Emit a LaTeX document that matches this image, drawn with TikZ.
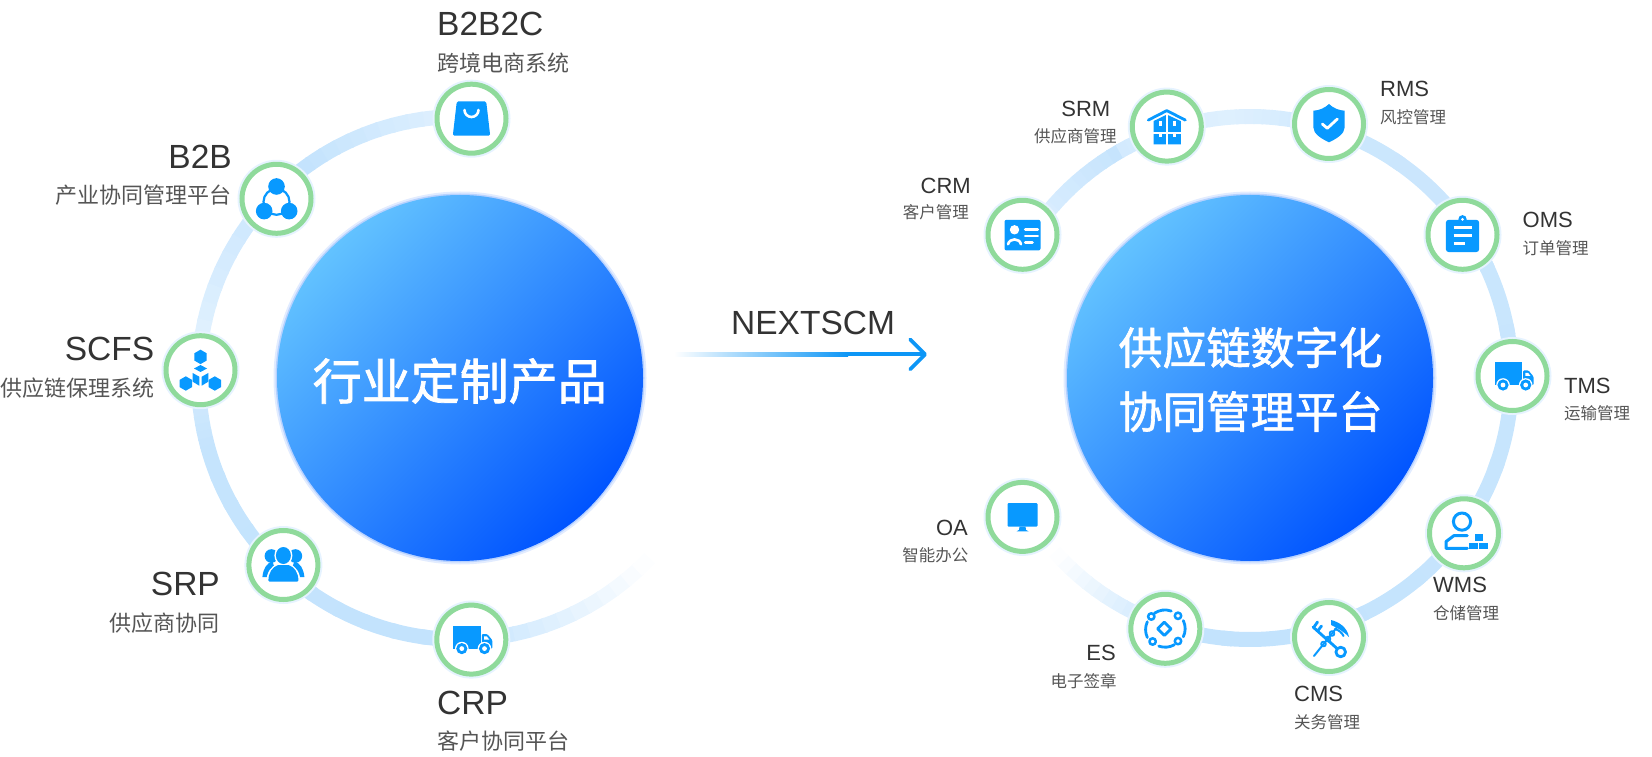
\documentclass[tikz,border=0pt]{standalone}
\usepackage{fontspec}
\setmainfont{Liberation Sans}
\newfontfamily\cjk{Noto Sans CJK SC}
\newfontfamily\cjkheavy[FakeBold=1.5]{Noto Sans CJK SC}
\usetikzlibrary{arrows.meta}
\definecolor{ringblue}{HTML}{BFE1FD}
\definecolor{icongreen}{HTML}{8FDA9B}
\definecolor{iconhalo}{HTML}{E6F3FF}
\definecolor{iconblue}{HTML}{0899FF}
\definecolor{corelight}{HTML}{62C2FF}
\definecolor{coredark}{HTML}{0054FF}
\definecolor{corehalo}{HTML}{E2ECFF}
\definecolor{coreedge}{HTML}{B8D2FF}
\definecolor{arrowblue}{HTML}{0D96F6}
\definecolor{titlegray}{HTML}{333333}
\definecolor{subgray}{HTML}{555555}
\tikzset{
  ringline/.style={line width=15pt},
  iconnode/.style={shape=circle, minimum size=69pt, inner sep=0pt, fill=white, draw=icongreen, line width=5pt,
    preaction={draw=iconhalo, line width=9pt}},
  corenode/.style={shape=circle, minimum size=366pt, inner sep=0pt,
    preaction={draw=corehalo, line width=7pt}, preaction={draw=coreedge, line width=3pt},
    left color=corelight, right color=coredark, shading angle=45},
  coretext/.style={text=white, align=center, inner sep=0pt},
  titlebig/.style={font=\fontsize{33.5}{38}\selectfont, text=titlegray, inner sep=0pt},
  subbig/.style={font=\cjk\fontsize{22}{26}\selectfont, text=subgray, inner sep=0pt},
  titlesmall/.style={font=\fontsize{22}{26}\selectfont, text=titlegray, inner sep=0pt},
  subsmall/.style={font=\cjk\fontsize{16.5}{20}\selectfont, text=subgray, inner sep=0pt},
  iconfill/.style={fill=iconblue, draw=none},
  iconline/.style={draw=iconblue, line width=2.8pt, line cap=round, line join=round},
  iconcut/.style={draw=white, line width=2.6pt, line cap=round, line join=round},
  nextarrow/.style={draw=arrowblue, line width=4pt, line cap=round,
    -{Straight Barb[length=15pt, width=30pt, round, line width=3.8pt]}}
}
% one stretch of a ring, paler or stronger from end to end
\newcommand{\ringarc}[5]{%
  \foreach \i in {0,...,11}{%
    \pgfmathsetmacro{\angA}{#2+(#3-#2)*\i/12}
    \pgfmathsetmacro{\angB}{#2+(#3-#2)*(\i+1.15)/12}
    \pgfmathsetmacro{\mixv}{#4+(#5-#4)*(\i+0.5)/12}
    \draw[ringline, color=ringblue!\mixv!white] (#1) ++(\angA:261.5) arc[start angle=\angA, end angle=\angB, radius=261.5];
  }}
% icons, each drawn round the centre of its node
\newcommand{\bagicon}[1]{\begin{scope}[shift={(#1)}]
  \fill[iconfill, rounded corners=1.5pt] (-14.7,17.3) -- (14.7,17.3) -- (18.7,-17) -- (-18.7,-17) -- cycle;
  \draw[iconcut] (-7,8.7) arc[start angle=180, end angle=360, radius=7];
\end{scope}}
\newcommand{\triadicon}[1]{\begin{scope}[shift={(#1)}]
  \draw[iconline, line width=2.2pt] (0,-3) circle (13);
  \fill[iconfill] (0,12.3) circle (8.3);
  \fill[iconfill] (-12.3,-12.3) circle (8.3);
  \fill[iconfill] (12.7,-12.3) circle (8.3);
\end{scope}}
\newcommand{\hexcell}[2]{\fill[iconfill] (#1,#2) ++(90:7.2) -- ++(-30:7.2) -- ++(-90:7.2) -- ++(-150:7.2) -- ++(150:7.2) -- ++(90:7.2) -- cycle;}
\newcommand{\hexicon}[1]{\begin{scope}[shift={(#1)}]
  \hexcell{0}{13.3}
  \hexcell{-14.7}{-13.3}
  \hexcell{14.3}{-13.3}
  \fill[iconfill] (-6.5,1.7) -- (0,5.2) -- (6.5,1.7) -- (0,-1.8) -- cycle;
  \fill[iconfill] (-7.8,-2.8) -- (-1.2,-6.5) -- (-1.2,-15.5) -- (-7.8,-11.5) -- cycle;
  \fill[iconfill] (7.8,-2.8) -- (1.2,-6.5) -- (1.2,-15.5) -- (7.8,-11.5) -- cycle;
\end{scope}}
\newcommand{\usersicon}[1]{\begin{scope}[shift={(#1)}]
  \fill[iconfill] (-12,9) circle (6.8);
  \fill[iconfill] (12,9) circle (6.8);
  \fill[iconfill] (-21,-12) .. controls (-20,-3) and (-17,1) .. (-11,4) -- (-6,-12) -- cycle;
  \fill[iconfill] (21,-12) .. controls (20,-3) and (17,1) .. (11,4) -- (6,-12) -- cycle;
  \fill[white] (0,9.5) ellipse (9 and 10);
  \fill[white] (-17,-17) .. controls (-17,-7) and (-12,-1) .. (-6,1) -- (6,1) .. controls (12,-1) and (17,-7) .. (17,-17) -- cycle;
  \fill[iconfill] (0,9.5) ellipse (7.5 and 8.5);
  \fill[iconfill, rounded corners=1pt] (-15,-16.5) .. controls (-15,-8) and (-11,-2) .. (-5,0) -- (5,0) .. controls (11,-2) and (15,-8) .. (15,-16.5) -- cycle;
\end{scope}}
\newcommand{\truckicon}[1]{\begin{scope}[shift={(#1)}]
  \fill[iconfill] (-18,13.5) rectangle (9.3,-9);
  \fill[iconfill, rounded corners=1pt] (10.5,5.5) -- (16,5.5) -- (21,-0.5) -- (21,-9) -- (10.5,-9) -- cycle;
  \fill[white] (12.8,3.2) -- (15.5,3.2) -- (18,0) -- (12.8,0) -- cycle;
  \foreach \wheelx in {-9.5,13.2}{
    \fill[white] (\wheelx,-9) circle (6.8);
    \fill[iconfill] (\wheelx,-9) circle (5.6);
    \fill[white] (\wheelx,-9) circle (2.4);
  }
\end{scope}}
\newcommand{\househicon}[1]{\begin{scope}[shift={(#1)}]
  \draw[iconline] (-18.5,6.5) -- (0,16) -- (18.5,6.5);
  \fill[iconfill] (-13.3,5.5) -- (0,12) -- (14,5.5) -- (14,-17.7) -- (-13.3,-17.7) -- cycle;
  \draw[white, line width=1.4pt] (0.3,13) -- (0.3,-18);
  \draw[white, line width=1.4pt] (-14,-6.5) -- (15,-6.5);
  \foreach \notchx in {-6.7,7.3}{
    \fill[white] (\notchx-1.4,6) rectangle (\notchx+1.4,1);
    \fill[white] (\notchx-1.4,-6.5) rectangle (\notchx+1.4,-10);
  }
\end{scope}}
\newcommand{\shieldicon}[1]{\begin{scope}[shift={(#1)}]
  \fill[iconfill] (0,20) .. controls (4,16) and (10,13.5) .. (15.7,13.3) -- (15.7,-3.3) .. controls (15.7,-10) and (7,-15) .. (0,-18.3)
    .. controls (-7,-15) and (-15.7,-10) .. (-15.7,-3.3) -- (-15.7,13.3) .. controls (-10,13.5) and (-4,16) .. cycle;
  \draw[iconcut, line width=2.8pt] (-6.7,0) -- (-1.7,-4.3) -- (8.3,5);
\end{scope}}
\newcommand{\clipicon}[1]{\begin{scope}[shift={(#1)}]
  \fill[iconfill, rounded corners=3pt] (-16.7,15) rectangle (16.7,-17.3);
  \fill[iconfill] (0,15.5) circle (4.2);
  \fill[white] (0,15.5) circle (1.5);
  \draw[iconcut, line width=3pt, line cap=butt] (-9,7) -- (9,7);
  \draw[iconcut, line width=3pt, line cap=butt] (-9,-0.7) -- (9,-0.7);
  \draw[iconcut, line width=3pt, line cap=butt] (-9,-8.3) -- (2.5,-8.3);
\end{scope}}
\newcommand{\keeperhicon}[1]{\begin{scope}[shift={(#1)}]
  \draw[iconline, line width=3pt] (-2,11.7) circle (8.6);
  \draw[iconline, line width=3pt] (3.3,-2.3) -- (-10,-2.3) -- (-18,-8.3) -- (-18,-15) -- (3.3,-15);
  \fill[iconfill] (11,-1) rectangle (19.3,-7.6);
  \fill[iconfill] (5,-9.3) rectangle (14.3,-15.7);
  \fill[iconfill] (15,-9.3) rectangle (24.3,-15.7);
\end{scope}}
\newcommand{\customsicon}[1]{\begin{scope}[shift={(#1)}]
  \draw[iconline] (-16,10) -- (8,-11.5);
  \draw[iconline] (11.7,-15) circle (4.8);
  \draw[iconline] (-15,10) -- (-11.5,15);
  \draw[iconline] (-11,6.5) -- (-7.5,11);
  \draw[iconline, line width=2pt] (-15,-19) -- (9,11);
  \fill[iconfill] (2,17) .. controls (10,15) and (18,10) .. (20,0) .. controls (15,5) and (9,9) .. (2,12) -- cycle;
  \draw[iconline, line width=2pt] (6,8) .. controls (10,7) and (13,4) .. (14.5,1);
  \draw[iconline, line width=1.8pt] (-5.5,-7) circle (2.4);
  \draw[iconline, line width=1.8pt] (-1,-2) circle (2.4);
  \draw[iconline, line width=1.8pt] (3,3.5) circle (2.4);
\end{scope}}
\newcommand{\signicon}[1]{\begin{scope}[shift={(#1)}]
  \draw[iconline] (-1,6.7) -- (5.7,0) -- (-1,-6.7) -- (-7.7,0) -- cycle;
  \draw[iconline] (18,-8) arc[start angle=-26, end angle=26, radius=18.5];
  \draw[iconline] (-11,15.5) arc[start angle=125, end angle=70, radius=18.5];
  \draw[iconline] (-18,7) arc[start angle=155, end angle=205, radius=18.5];
  \draw[iconline] (-6.5,-17.3) arc[start angle=250, end angle=300, radius=18.5];
  \foreach \dotx/\doty in {-14/12.3,12.7/13,-12.7/-12.7,12.7/-12.3}{
    \draw[iconline, line width=2.5pt, fill=white] (\dotx,\doty) circle (3.2);
  }
\end{scope}}
\newcommand{\screenicon}[1]{\begin{scope}[shift={(#1)}]
  \fill[iconfill, rounded corners=1pt] (-15,13.7) rectangle (15,-9.7);
  \fill[iconfill] (-3,-9.7) -- (3,-9.7) -- (3.5,-13) -- (6,-14.5) -- (-6,-14.5) -- (-3.5,-13) -- cycle;
\end{scope}}
\newcommand{\cardicon}[1]{\begin{scope}[shift={(#1)}]
  \fill[iconfill, rounded corners=2pt] (-18,15) rectangle (18,-15.7);
  \fill[white] (-8,5) circle (4.7);
  \draw[iconcut] (-14.5,-9.5) .. controls (-13,-3) and (-3,-3) .. (-1.5,-9.5);
  \draw[iconcut] (2.7,5) -- (15.3,5);
  \draw[iconcut] (2.7,-1.3) -- (15.3,-1.3);
  \draw[iconcut] (2.7,-7.7) -- (10,-7.7);
\end{scope}}
\begin{document}
\begin{tikzpicture}[x=1pt, y=1pt]
\useasboundingbox (0,0) rectangle (1652,756);
\coordinate (leftc) at (460,378);
\coordinate (rightc) at (1250,378);
% left ring
\ringarc{leftc}{88}{128}{45}{95}
\ringarc{leftc}{128}{175}{90}{45}
\ringarc{leftc}{175}{195}{60}{90}
\ringarc{leftc}{195}{275}{90}{95}
\ringarc{leftc}{275}{316}{80}{0}
% right ring
\ringarc{rightc}{148}{120}{50}{90}
\ringarc{rightc}{120}{95}{70}{50}
\ringarc{rightc}{95}{72}{50}{75}
\ringarc{rightc}{72}{-109}{80}{95}
\ringarc{rightc}{-109}{-138}{80}{0}
% left icons
\node (b2b2c) [iconnode] at (471.5,637.3) {};
\node (b2b) [iconnode] at (276.5,557.2) {};
\node (scfs) [iconnode] at (200.5,385.8) {};
\node (srp) [iconnode] at (283.4,191) {};
\node (crp) [iconnode] at (471.3,116.4) {};
\bagicon{b2b2c}
\triadicon{b2b}
\hexicon{scfs}
\usersicon{srp}
\truckicon{crp}
% right icons
\node (srm) [iconnode] at (1166.8,629.4) {};
\node (rms) [iconnode] at (1329,632) {};
\node (oms) [iconnode] at (1462.5,521.2) {};
\node (tms) [iconnode] at (1512.5,380) {};
\node (wms) [iconnode] at (1464,222.7) {};
\node (cms) [iconnode] at (1329,119) {};
\node (es) [iconnode] at (1165.3,127.2) {};
\node (oa) [iconnode] at (1022.5,239.1) {};
\node (crm) [iconnode] at (1022.5,521.2) {};
\househicon{srm}
\shieldicon{rms}
\clipicon{oms}
\truckicon{tms}
\keeperhicon{wms}
\customsicon{cms}
\signicon{es}
\screenicon{oa}
\cardicon{crm}
% centre discs
\node (coreleft) [corenode] at (leftc) {};
\node (coreright) [corenode] at (rightc) {};
\node (corelefttext) [coretext, font=\cjkheavy\fontsize{49}{60}\selectfont] at (459.7,375) {行业定制产品};
\node (corerighttext) [coretext, font=\cjkheavy\fontsize{44}{64}\selectfont] at (1250.6,376.5) {供应链数字化\\协同管理平台};
% left labels
\node (b2b2ct) [titlebig, anchor=west] at (437,732) {B2B2C};
\node (b2b2cs) [subbig, anchor=west] at (437,693.3) {跨境电商系统};
\node (b2bt) [titlebig, anchor=east] at (232,599.3) {B2B};
\node (b2bs) [subbig, anchor=east] at (232,560.7) {产业协同管理平台};
\node (scfst) [titlebig, anchor=east] at (154.4,407) {SCFS};
\node (scfss) [subbig, anchor=east] at (154.4,368) {供应链保理系统};
\node (srpt) [titlebig, anchor=east] at (220,172) {SRP};
\node (srps) [subbig, anchor=east] at (220,133) {供应商协同};
\node (crpt) [titlebig, anchor=west] at (437,53) {CRP};
\node (crps) [subbig, anchor=west] at (437,14.5) {客户协同平台};
% right labels
\node (srmt) [titlesmall, anchor=east] at (1110.5,647.5) {SRM};
\node (srms) [subsmall, anchor=east] at (1116.8,619.5) {供应商管理};
\node (rmst) [titlesmall, anchor=west] at (1380,667) {RMS};
\node (rmss) [subsmall, anchor=west] at (1380,639) {风控管理};
\node (crmt) [titlesmall, anchor=east] at (971,570.5) {CRM};
\node (crms) [subsmall, anchor=east] at (969,544) {客户管理};
\node (omst) [titlesmall, anchor=west] at (1522.5,536) {OMS};
\node (omss) [subsmall, anchor=west] at (1522.5,508) {订单管理};
\node (tmst) [titlesmall, anchor=west] at (1564,370) {TMS};
\node (tmss) [subsmall, anchor=west] at (1564,342.3) {运输管理};
\node (wmst) [titlesmall, anchor=west] at (1433,171) {WMS};
\node (wmss) [subsmall, anchor=west] at (1433,143) {仓储管理};
\node (cmst) [titlesmall, anchor=west] at (1294,62) {CMS};
\node (cmss) [subsmall, anchor=west] at (1294,34) {关务管理};
\node (est) [titlesmall, anchor=east] at (1116,103) {ES};
\node (ess) [subsmall, anchor=east] at (1116.8,75) {电子签章};
\node (oat) [titlesmall, anchor=east] at (968,228.5) {OA};
\node (oas) [subsmall, anchor=east] at (968.6,200.5) {智能办公};
% middle arrow
\node (nextscm) [titlebig, anchor=west] at (731,433) {NEXTSCM};
\coordinate (arrowtail) at (674,401.6);
\coordinate (arrowfade) at (848,401.6);
\coordinate (arrowtip) at (927,401.6);
\draw[nextarrow] (arrowfade) -- (arrowtip);
\shade[left color=white, right color=arrowblue] ([yshift=-2pt]arrowtail) rectangle ([yshift=2pt]arrowfade);
\end{tikzpicture}
\end{document}
